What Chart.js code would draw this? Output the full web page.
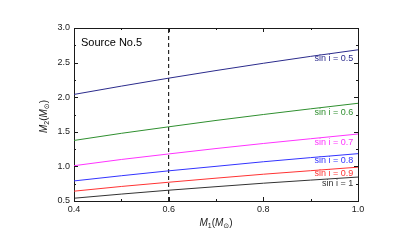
<!DOCTYPE html>
<html>
<head>
<meta charset="utf-8">
<script src="https://cdn.jsdelivr.net/npm/chart.js@4/dist/chart.umd.min.js"></script>
<style>
  html, body { margin: 0; padding: 0; background: #fff; }
</style>
</head>
<body>
<canvas id="chart" width="415" height="242"></canvas>
<script>
const m1 = [0.4, 0.5, 0.6, 0.7, 0.8, 0.9, 1.0];
const sin05 = [2.04, 2.16, 2.275, 2.385, 2.49, 2.59, 2.685];
const sin06 = [1.375, 1.478, 1.572, 1.664, 1.75, 1.832, 1.912];
const sin07 = [1.01, 1.10, 1.18, 1.258, 1.331, 1.40, 1.468];
const sin08 = [0.79, 0.865, 0.936, 1.001, 1.067, 1.127, 1.184];
const sin09 = [0.642, 0.71, 0.771, 0.83, 0.887, 0.938, 0.989];
const sin10 = [0.54, 0.60, 0.656, 0.707, 0.757, 0.802, 0.846];
const seriesLabels = ["sin i = 0.5", "sin i = 0.6", "sin i = 0.7", "sin i = 0.8", "sin i = 0.9", "sin i = 1"];
const seriesColors = ["#2b2b8c", "#2f8f2f", "#ff33ff", "#3333ff", "#ff3333", "#333333"];
const markerX = 0.6;
const xTicks = [0.4, 0.6, 0.8, 1.0];
const yTicks = [0.5, 1.0, 1.5, 2.0, 2.5, 3.0];

const FONT = "'Liberation Sans', Arial, 'DejaVu Sans', sans-serif";
const INK = "#1a1a1a";

const toPoints = (arr) => m1.map((v, i) => ({ x: v, y: arr[i] }));
const allSeries = [sin05, sin06, sin07, sin08, sin09, sin10];

const datasets = allSeries.map((arr, i) => ({
  label: seriesLabels[i],
  data: toPoints(arr),
  borderColor: seriesColors[i],
  borderWidth: 1,
  pointRadius: 0,
  tension: 0,
}));
datasets.push({
  label: "marker",
  data: [{ x: markerX, y: yTicks[0] }, { x: markerX, y: yTicks[yTicks.length - 1] }],
  borderColor: "#000",
  borderWidth: 1,
  borderDash: [4, 3],
  pointRadius: 0,
});

// draws "M_sub(M_⊙)" as pieces
function drawMassTitle(ctx, sub, cx, cy, rotate) {
  const parts = [
    { t: "M", f: "italic 10px " + FONT, dy: 0 },
    { t: sub, f: "7px " + FONT, dy: 3 },
    { t: "(", f: "10px " + FONT, dy: 0 },
    { t: "M", f: "italic 10px " + FONT, dy: 0 },
    { t: "\u2299", f: "7px " + FONT, dy: 3 },
    { t: ")", f: "10px " + FONT, dy: 0 },
  ];
  let w = 0;
  parts.forEach((p) => { ctx.font = p.f; p.w = ctx.measureText(p.t).width; w += p.w; });
  ctx.save();
  ctx.translate(cx, cy);
  if (rotate) ctx.rotate(-Math.PI / 2);
  ctx.fillStyle = INK;
  ctx.textBaseline = "middle";
  ctx.textAlign = "left";
  let px = -w / 2;
  parts.forEach((p) => { ctx.font = p.f; ctx.fillText(p.t, px, p.dy); px += p.w; });
  ctx.restore();
}

const decor = {
  id: "decor",
  afterDraw(chart) {
    const { ctx, chartArea: a, scales: { x, y } } = chart;
    ctx.save();
    ctx.strokeStyle = INK;
    ctx.lineWidth = 1;

    // top and right side of the frame
    ctx.beginPath();
    ctx.moveTo(a.left, a.top + 0.5);
    ctx.lineTo(a.right + 0.5, a.top + 0.5);
    ctx.moveTo(a.right + 0.5, a.top);
    ctx.lineTo(a.right + 0.5, a.bottom);
    ctx.stroke();

    // inward ticks, minor every 0.1 / 0.25
    ctx.beginPath();
    for (let k = 4; k <= 10; k++) {
      const px = Math.round(x.getPixelForValue(k / 10)) + 0.5;
      const len = k % 2 === 0 ? 4 : 2;
      ctx.moveTo(px, a.bottom); ctx.lineTo(px, a.bottom - len);
      ctx.moveTo(px, a.top); ctx.lineTo(px, a.top + len);
    }
    for (let k = 2; k <= 12; k++) {
      const py = Math.round(y.getPixelForValue(k / 4)) + 0.5;
      const len = k % 2 === 0 ? 4 : 2;
      ctx.moveTo(a.left, py); ctx.lineTo(a.left + len, py);
      ctx.moveTo(a.right, py); ctx.lineTo(a.right - len, py);
    }
    ctx.stroke();

    // series labels just under each curve at the right end
    ctx.font = "9px " + FONT;
    ctx.textAlign = "right";
    ctx.textBaseline = "middle";
    const lx = x.getPixelForValue(0.99);
    allSeries.forEach((arr, i) => {
      ctx.fillStyle = seriesColors[i];
      const ly = y.getPixelForValue(arr[arr.length - 1]) + (i < 3 ? 9 : 6.5);
      ctx.fillText(seriesLabels[i], lx, ly);
    });

    ctx.fillStyle = "#000";
    ctx.textAlign = "left";
    ctx.font = "11px " + FONT;
    ctx.fillText("Source No.5", a.left + 7, a.top + 15);

    drawMassTitle(ctx, "1", (a.left + a.right) / 2, 223, false);
    drawMassTitle(ctx, "2", 44, (a.top + a.bottom) / 2 + 2, true);
    ctx.restore();
  },
};

new Chart(document.getElementById("chart"), {
  type: "line",
  data: { datasets },
  options: {
    responsive: false,
    animation: false,
    layout: { padding: { top: 28, right: 57, left: 0, bottom: 0 } },
    plugins: { legend: { display: false }, tooltip: { enabled: false } },
    scales: {
      x: {
        type: "linear",
        min: 0.4,
        max: 1.0,
        afterBuildTicks: (s) => { s.ticks = xTicks.map((v) => ({ value: v })); },
        afterFit: (s) => { s.height = 41; },
        ticks: { callback: (v) => v.toFixed(1), font: { family: FONT, size: 9 }, color: INK, padding: 3, maxRotation: 0 },
        grid: { drawOnChartArea: false, drawTicks: false },
        border: { display: true, color: INK, width: 1 },
      },
      y: {
        type: "linear",
        min: 0.5,
        max: 3.0,
        afterBuildTicks: (s) => { s.ticks = yTicks.map((v) => ({ value: v })); },
        afterFit: (s) => { s.width = 74; },
        ticks: { callback: (v) => v.toFixed(1), font: { family: FONT, size: 9 }, color: INK, padding: 4 },
        grid: { drawOnChartArea: false, drawTicks: false },
        border: { display: true, color: INK, width: 1 },
      },
    },
  },
  plugins: [decor],
});
</script>
</body>
</html>
